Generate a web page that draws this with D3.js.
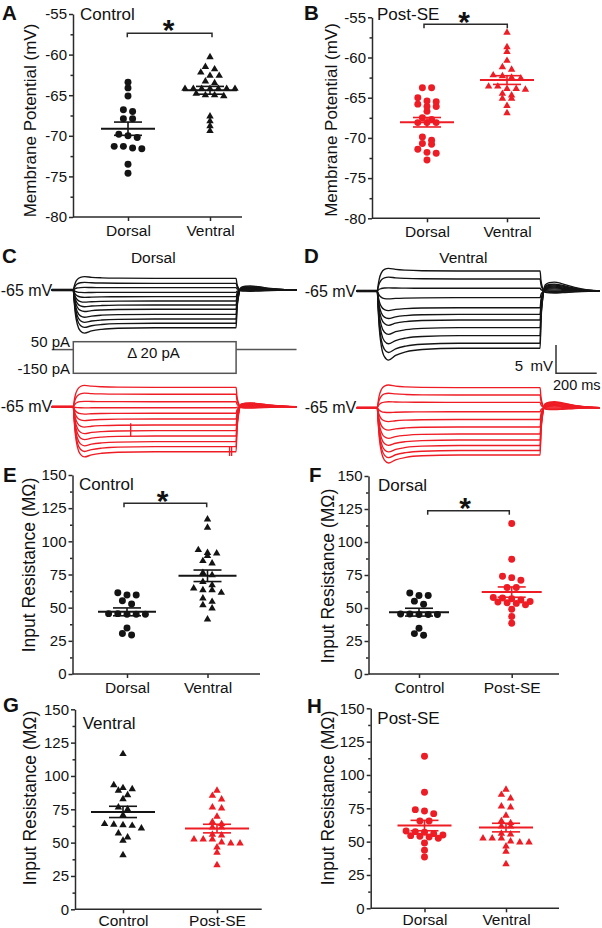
<!DOCTYPE html>
<html><head><meta charset="utf-8">
<script src="https://cdn.jsdelivr.net/npm/d3@7"></script>
<style>body{margin:0;background:#fff}svg{display:block;font-family:"Liberation Sans",Arial,sans-serif}</style>
</head><body><script>
// ---------------- DATA ----------------
const regionCats = ["Dorsal", "Ventral"];
const groupCats = ["Control", "Post-SE"];
const mpTicks = [-80, -75, -70, -65, -60, -55];
const irTicks = [0, 25, 50, 75, 100, 125, 150];

// Membrane potential (mV)
const mpCtrlDorsal = [-63.4, -64.1, -65.1, -66.8, -67.0, -67.9, -67.9, -69.8, -70.0, -70.2, -71.3, -71.3, -71.5, -71.6, -73.5, -74.6];
const mpCtrlVentral = [-60.3, -61.5, -61.8, -62.2, -62.6, -62.6, -63.3, -63.5, -64.2, -64.2, -64.2, -64.2, -64.2, -64.2, -64.2, -64.8, -65.0, -65.1, -65.0, -67.6, -68.2, -68.8, -69.4];
const mpSEDorsal = [-63.75, -63.75, -65.0, -65.4, -65.5, -65.8, -66.1, -66.1, -66.7, -67.5, -67.7, -68.1, -68.1, -68.1, -69.9, -70.3, -70.7, -70.8, -71.4, -71.8, -71.9, -72.75];
const mpSEVentral = [-56.9, -58.7, -59.3, -60.4, -61.2, -61.5, -62.2, -62.3, -62.5, -62.6, -63.6, -63.6, -63.9, -63.9, -64.0, -64.5, -64.7, -65.1, -65.1, -66.0, -66.9];

// Input resistance (MOhm)
const irCtrlDorsal = [61.3, 59.5, 59.5, 55.2, 52.8, 45.5, 45.5, 45.0, 45.0, 45.0, 34.7, 30.6, 29.4];
const irCtrlVentralE = [116.6, 110.3, 93.5, 91.4, 90.9, 89, 85.2, 83.4, 76.3, 74.6, 69.5, 67.1, 64.6, 63.3, 63.3, 61.3, 57, 54.5, 52, 49.5, 41.2];
const irCtrlVentralG = [116.5, 93.2, 91, 90.2, 89, 85.7, 82.7, 76.5, 75, 70.7, 64, 63.5, 63.2, 62.7, 60.7, 57, 54, 51.5, 40.7];
const irSEDorsal = [114, 87, 74, 73, 71, 65.5, 65.5, 58, 57.5, 57, 56, 55, 54.5, 54, 53.5, 52.5, 49, 43.5, 38.5];
const irSEVentral = [89, 85.2, 82.5, 76.5, 75.8, 69.5, 65.5, 64, 61.5, 61.5, 56, 55.5, 52.5, 52.5, 52.5, 50.3, 49.5, 49.5, 46.5, 42.5, 33.2];

// Voltage traces: steady-state and early peak deflection (mV from -65 mV), one per current step
const cBlackSteady = [2.06, 1.18, 0.41, -0.41, -1.18, -1.94, -2.65, -3.40, -4.29, -5.11, -5.87, -6.65];
const cBlackPeak   = [2.35, 1.35, 0.45, -0.45, -1.30, -2.15, -2.95, -3.80, -4.80, -5.70, -6.60, -7.60];
const cRedSteady   = [3.42, 2.19, 0.88, -0.18, -1.16, -2.17, -3.23, -4.23, -5.17, -6.17, -7.05, -7.94];
const cRedPeak     = [3.75, 2.40, 0.95, -0.20, -1.30, -2.45, -3.60, -4.75, -5.80, -6.90, -7.90, -8.85];
const dBlackSteady = [3.53, 2.12, 0.48, -1.18, -2.95, -4.11, -5.11, -6.47, -7.88, -9.22, -10.1];
const dBlackPeak   = [4.00, 2.45, 0.55, -1.40, -3.45, -4.85, -6.05, -7.65, -9.30, -10.85, -12.2];
const dRedSteady   = [3.53, 2.24, 0.95, -0.71, -2.08, -3.40, -4.64, -5.70, -6.67, -7.55, -8.34];
const dRedPeak     = [4.00, 2.55, 1.05, -0.85, -2.45, -3.95, -5.40, -6.65, -7.80, -8.80, -9.75];
// time course knots (ms) with weights on steady level and on sag (peak - steady)
const knotTimes   = [-110, 0, 4, 10, 20, 35, 55, 90, 140, 220, 400, 800, 804, 812, 825, 845, 870, 910, 970, 1040, 1100];
const knotSteadyW = [0, 0, 0.25, 0.55, 0.8, 0.95, 1, 1, 1, 1, 1, 1, 0.55, 0.2, 0, 0, 0, 0, 0, 0, 0];
const knotSagW    = [0, 0, 0.25, 0.55, 0.8, 0.95, 1, 0.6, 0.3, 0.1, 0, 0, 0, -0.2, -0.5, -0.7, -0.75, -0.6, -0.3, -0.08, 0];
const cRedArtifacts = [[282, -2.9, -5.2], [768, -7.1, -8.7], [778, -7.1, -8.7]]; // [ms, mV, mV]
const stimStepsPA = [50, -150];
const stimOnOffMs = [0, 800];
const scaleBar = {mV: 5, ms: 200};

// ---------------- DRAW ----------------
const W = 602, H = 928;
const svg = d3.select("body").append("svg").attr("width", W).attr("height", H);
const BLACK = "#141414", RED = "#ee1c24", AXIS = "#2a2a2a";

function text(x, y, s, opts = {}) {
  const t = svg.append("text").attr("x", x).attr("y", y).text(s)
    .attr("font-size", opts.size || 15).attr("fill", opts.fill || "#111")
    .attr("text-anchor", opts.anchor || "start");
  if (opts.weight) t.attr("font-weight", opts.weight);
  if (opts.baseline) t.attr("dominant-baseline", opts.baseline);
  if (opts.rotate) t.attr("transform", `rotate(-90,${x},${y})`);
  return t;
}

function swarm(vals, y, sp, thr, maxW) {
  const pts = vals.map(v => ({v, py: y(v)})).sort((a, b) => a.py - b.py);
  const rows = []; let cur = null;
  pts.forEach(p => { if (!cur || p.py - cur[0].py > thr) { cur = []; rows.push(cur); } cur.push(p); });
  rows.forEach(r => { const n = r.length; const s = n > 1 ? Math.min(sp, maxW / (n - 1)) : 0;
    r.forEach((p, i) => p.dx = (i - (n - 1) / 2) * s); });
  return pts;
}

function scatterPanel(p) {
  const g = svg.append("g");
  const y = d3.scaleLinear().domain(p.domain).range(p.yRange);
  const x = d3.scalePoint().domain(p.cats).range(p.catX);
  const ya = g.append("g").attr("transform", `translate(${p.axX},0)`)
    .call(d3.axisLeft(y).tickValues(p.ticks).tickSize(4).tickPadding(2).tickSizeOuter(0).tickFormat(d => String(d)));
  const minor = d3.range(p.ticks.length - 1).map(i => (p.ticks[i] + p.ticks[i + 1]) / 2);
  const ym = g.append("g").attr("transform", `translate(${p.axX},0)`)
    .call(d3.axisLeft(y).tickValues(minor).tickSize(2.5).tickFormat(() => ""));
  ym.select(".domain").remove();
  const xa = g.append("g").attr("transform", `translate(0,${p.yRange[0]})`)
    .call(d3.axisBottom(x).tickSize(4).tickPadding(p.xPad != null ? p.xPad : 3.5).tickSizeOuter(0));
  xa.select(".domain").remove();
  g.append("line").attr("x1", p.axX).attr("x2", p.xEnd).attr("y1", p.yRange[0]).attr("y2", p.yRange[0])
    .attr("stroke", AXIS).attr("stroke-width", 1.5);
  [ya, ym, xa].forEach(a => {
    a.attr("font-family", null).attr("font-size", 15);
    a.selectAll("path,line").attr("stroke", AXIS).attr("stroke-width", 1.5);
    a.selectAll("text").attr("fill", "#111");
  });
  xa.selectAll("text").attr("font-size", 15.5);

  p.groups.forEach((gr, i) => {
    const cx = x(p.cats[i]);
    const pts = swarm(gr.vals, y, 9.2, 4.5, 50);
    const sym = gr.shape === "circle" ? d3.symbol(d3.symbolCircle, 38) : d3.symbol(d3.symbolTriangle, 24);
    g.selectAll(null).data(pts).join("path").attr("d", sym)
      .attr("transform", d => `translate(${cx + d.dx},${d.py})`).attr("fill", gr.color);
    const m = d3.mean(gr.vals), se = d3.deviation(gr.vals) / Math.sqrt(gr.vals.length);
    const lg = g.append("g").attr("stroke", gr.color).attr("fill", "none");
    lg.append("line").attr("x1", cx - p.meanHalf).attr("x2", cx + p.meanHalf).attr("y1", y(m)).attr("y2", y(m)).attr("stroke-width", 2);
    [m + se, m - se].forEach(v => lg.append("line").attr("x1", cx - 14).attr("x2", cx + 14).attr("y1", y(v)).attr("y2", y(v)).attr("stroke-width", 1.6));
    lg.append("line").attr("x1", cx).attr("x2", cx).attr("y1", y(m + se)).attr("y2", y(m - se)).attr("stroke-width", 1.6);
  });

  if (p.bracket) {
    const b = p.bracket;
    g.append("path").attr("d", `M${b.x1},${b.y + 4}V${b.y}H${b.x2}V${b.y + 4}`)
      .attr("fill", "none").attr("stroke", AXIS).attr("stroke-width", 1.5);
    text(b.starX, b.starTop + 0.716 * 30, "*", {size: 30, anchor: "middle", weight: "bold"});
  }
  text(p.ytitle[0], p.ytitle[1], p.ytitleText, {size: p.ytitleSize, anchor: "middle", baseline: "central", rotate: true});
  text(p.title[0], p.title[1], p.titleText, {size: 17});
  text(p.letter[0], p.letter[1], p.letterText, {size: 20.5, weight: "bold"});
}

scatterPanel({letterText: "A", letter: [2, 20], domain: [-80, -55], yRange: [217, 14], axX: 73, xEnd: 242,
  cats: regionCats, catX: [128, 210], ticks: mpTicks, meanHalf: 27,
  groups: [{vals: mpCtrlDorsal, color: BLACK, shape: "circle"}, {vals: mpCtrlVentral, color: BLACK, shape: "triangle"}],
  ytitleText: "Membrane Potential (mV)", ytitle: [30, 120.5], ytitleSize: 17,
  titleText: "Control", title: [80, 19.5], bracket: {x1: 127.3, x2: 212, y: 33.3, starX: 168.5, starTop: 18.3}});
scatterPanel({letterText: "B", letter: [304, 20], domain: [-80, -55], yRange: [218.3, 17.3], axX: 372, xEnd: 540,
  cats: regionCats, catX: [427, 507], ticks: mpTicks, meanHalf: 27,
  groups: [{vals: mpSEDorsal, color: RED, shape: "circle"}, {vals: mpSEVentral, color: RED, shape: "triangle"}],
  ytitleText: "Membrane Potential (mV)", ytitle: [331.7, 120], ytitleSize: 17,
  titleText: "Post-SE", title: [377, 19.5], bracket: {x1: 424, x2: 507.3, y: 24.3, starX: 464, starTop: 11}});
scatterPanel({letterText: "E", letter: [3, 481.7], domain: [0, 150], yRange: [674, 475], axX: 72.5, xEnd: 260,
  cats: regionCats, catX: [127, 207.5], ticks: irTicks, meanHalf: 29,
  groups: [{vals: irCtrlDorsal, color: BLACK, shape: "circle"}, {vals: irCtrlVentralE, color: BLACK, shape: "triangle"}],
  ytitleText: "Input Resistance (MΩ)", ytitle: [28.5, 565], ytitleSize: 17.5,
  titleText: "Control", title: [79, 489.5], bracket: {x1: 124, x2: 206.7, y: 503.3, starX: 162.7, starTop: 490}});
scatterPanel({letterText: "F", letter: [309, 481.7], domain: [0, 150], yRange: [674, 476], axX: 368.5, xEnd: 559,
  cats: groupCats, catX: [419, 511.7], ticks: irTicks, meanHalf: 30,
  groups: [{vals: irCtrlDorsal, color: BLACK, shape: "circle"}, {vals: irSEDorsal, color: RED, shape: "circle"}],
  ytitleText: "Input Resistance (MΩ)", ytitle: [328.3, 576], ytitleSize: 17.5,
  titleText: "Dorsal", title: [378, 491], bracket: {x1: 427.7, x2: 509.3, y: 510.7, starX: 465, starTop: 496.7}});
scatterPanel({letterText: "G", letter: [3, 711.7], domain: [0, 150], yRange: [909.3, 709.3], axX: 75, xEnd: 261.7,
  cats: groupCats, catX: [123, 217], ticks: irTicks, meanHalf: 32, xPad: 1.5,
  groups: [{vals: irCtrlVentralG, color: BLACK, shape: "triangle"}, {vals: irSEVentral, color: RED, shape: "triangle"}],
  ytitleText: "Input Resistance (MΩ)", ytitle: [30, 798], ytitleSize: 17.5,
  titleText: "Ventral", title: [82.7, 729]});
scatterPanel({letterText: "H", letter: [307, 713], domain: [0, 150], yRange: [908.3, 708.3], axX: 370.7, xEnd: 559,
  cats: regionCats, catX: [424.5, 506], ticks: irTicks, meanHalf: 27, xPad: 1.5,
  groups: [{vals: irSEDorsal, color: RED, shape: "circle"}, {vals: irSEVentral, color: RED, shape: "triangle"}],
  ytitleText: "Input Resistance (MΩ)", ytitle: [328.3, 798], ytitleSize: 17.5,
  titleText: "Post-SE", title: [377.3, 724]});

// ---------- traces ----------
function traceSet(t) {
  const xs = d3.scaleLinear().domain([0, scaleBar.ms]).range([t.x0, t.x0 + 40.7]);
  const ys = d3.scaleLinear().domain([0, scaleBar.mV]).range([t.y0, t.y0 - 28.35]);
  const line = d3.line().x(d => xs(d[0])).y(d => ys(d[1])).curve(d3.curveMonotoneX);
  const g = svg.append("g").attr("fill", "none").attr("stroke", t.color).attr("stroke-width", 1.35);
  t.steady.forEach((S, i) => {
    const P = t.peak[i];
    const pts = knotTimes.map((tt, k) => [k === 0 ? t.tStart : (k === knotTimes.length - 1 ? t.tEnd : tt),
      knotSteadyW[k] * S + knotSagW[k] * (P - S)]);
    g.append("path").attr("d", line(pts));
  });
  // thicker baseline segment where all sweeps overlap
  g.append("line").attr("x1", xs(t.tStart)).attr("x2", xs(0)).attr("y1", ys(0)).attr("y2", ys(0)).attr("stroke-width", 2.6);
  (t.artifacts || []).forEach(a => g.append("line").attr("x1", xs(a[0])).attr("x2", xs(a[0]))
    .attr("y1", ys(a[1])).attr("y2", ys(a[2])));
  text(t.x0 - 21, t.y0, "-65 mV", {size: 16, anchor: "end", baseline: "central"});
  return {xs, ys};
}
const cb = traceSet({x0: 73.3, y0: 290, steady: cBlackSteady, peak: cBlackPeak, color: BLACK, tStart: -106, tEnd: 1097});
traceSet({x0: 73.3, y0: 406.7, steady: cRedSteady, peak: cRedPeak, color: RED, tStart: -106, tEnd: 1097, artifacts: cRedArtifacts});
const db = traceSet({x0: 377.3, y0: 291, steady: dBlackSteady, peak: dBlackPeak, color: BLACK, tStart: -101, tEnd: 1094});
traceSet({x0: 377.3, y0: 407.7, steady: dRedSteady, peak: dRedPeak, color: RED, tStart: -101, tEnd: 1094});

// stimulus schematic
const sy = d3.scaleLinear().domain([stimStepsPA[1], stimStepsPA[0]]).range([373.3, 341.7]);
const sx = cb.xs;
const sg = svg.append("g").attr("fill", "none").attr("stroke", "#555").attr("stroke-width", 1.5);
sg.append("line").attr("x1", sx(-106)).attr("x2", sx(stimOnOffMs[0])).attr("y1", sy(0)).attr("y2", sy(0));
sg.append("line").attr("x1", sx(stimOnOffMs[1])).attr("x2", sx(1097)).attr("y1", sy(0)).attr("y2", sy(0));
sg.append("rect").attr("x", sx(stimOnOffMs[0])).attr("y", sy(stimStepsPA[0]))
  .attr("width", sx(stimOnOffMs[1]) - sx(stimOnOffMs[0])).attr("height", sy(stimStepsPA[1]) - sy(stimStepsPA[0]));
text(70, sy(stimStepsPA[0]), stimStepsPA[0] + " pA", {size: 15, anchor: "end", baseline: "central"});
text(70, sy(stimStepsPA[1]) - 4.5, stimStepsPA[1] + " pA", {size: 15, anchor: "end", baseline: "central"});
text(153.5, 352, "Δ 20 pA", {size: 15, anchor: "middle", baseline: "central"});

// scale bar
const bx = 556, by = 373.3;
svg.append("path").attr("d", `M${bx},${by - (db.ys(0) - db.ys(scaleBar.mV))}V${by}H${bx + db.xs(scaleBar.ms) - db.xs(0)}`)
  .attr("fill", "none").attr("stroke", "#333").attr("stroke-width", 1.5);
text(553, 371, scaleBar.mV + "\u2002mV", {size: 15, anchor: "end"});
text(553, 390, scaleBar.ms + " ms", {size: 14.5});

// trace titles and letters
text(153.3, 263, "Dorsal", {size: 15.5, anchor: "middle"});
text(463.3, 263, "Ventral", {size: 15.5, anchor: "middle"});
text(2, 263, "C", {size: 20.5, weight: "bold"});
text(304, 263, "D", {size: 20.5, weight: "bold"});
</script></body></html>
